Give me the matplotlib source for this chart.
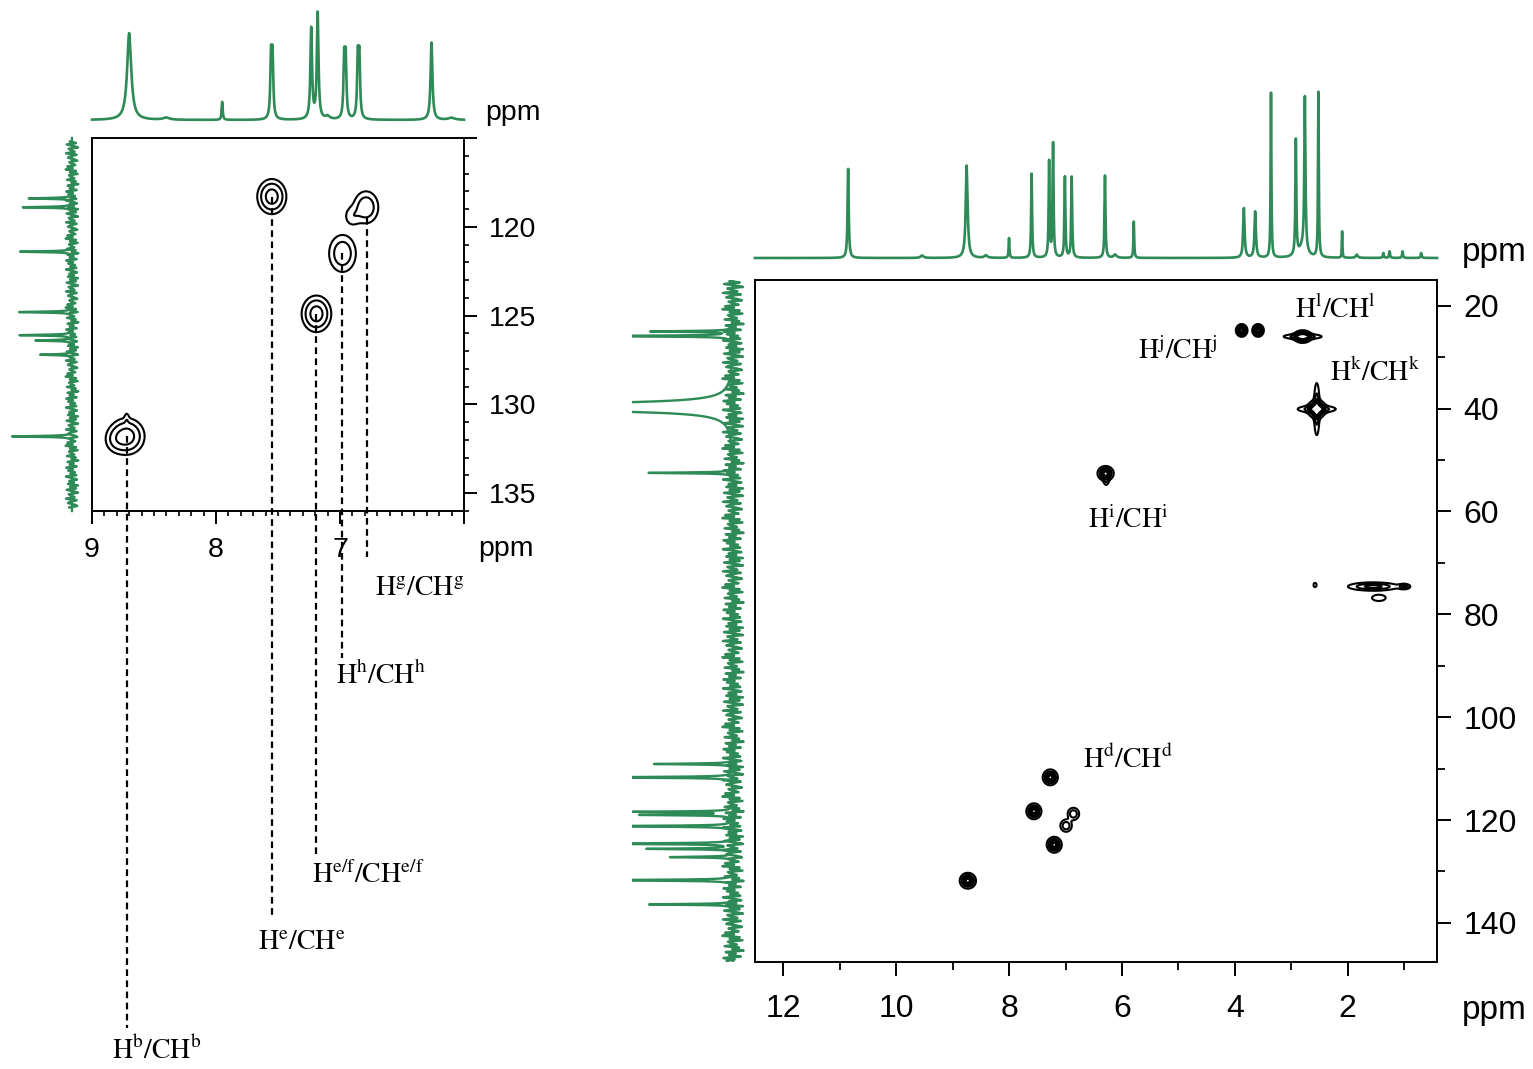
import numpy as np
import matplotlib
matplotlib.use('Agg')
import matplotlib.pyplot as plt
from matplotlib.ticker import FixedLocator, MultipleLocator

plt.rcParams['font.family'] = ['Liberation Sans', 'DejaVu Sans']
plt.rcParams['mathtext.fontset'] = 'stix'

green = '#2e8b57'

# ---------------- left panel (aromatic region) ----------------
# 1H projection: position (ppm), relative height, half width (ppm)
left_h_ppm = [8.70, 8.40, 7.95, 7.556, 7.544, 7.232, 7.18, 7.10, 6.966, 6.954, 6.856, 6.844, 6.262, 6.10]
left_h_height = [0.82, 0.02, 0.17, 0.56, 0.56, 0.855, 1.0, 0.03, 0.54, 0.54, 0.55, 0.55, 0.73, 0.02]
left_h_width = [0.02, 0.03, 0.005, 0.007, 0.007, 0.008, 0.008, 0.02, 0.007, 0.007, 0.007, 0.007, 0.009, 0.03]

# 13C projection
left_c_ppm = [118.4, 118.9, 121.4, 124.8, 126.1, 126.4, 127.2, 131.8]
left_c_height = [0.72, 0.82, 0.87, 0.88, 0.87, 0.60, 0.53, 1.0]

# HSQC cross peaks: 1H ppm, 13C ppm, spread 1H, spread 13C, intensity
left_pk_h = [8.72, 8.81, 8.72, 7.55, 7.19, 6.98, 6.79, 6.90]
left_pk_c = [131.8, 132.0, 130.8, 118.3, 124.9, 121.5, 118.9, 119.4]
left_pk_sh = [0.07, 0.05, 0.012, 0.057, 0.058, 0.06, 0.055, 0.04]
left_pk_sc = [0.5, 0.4, 0.25, 0.48, 0.5, 0.58, 0.5, 0.35]
left_pk_amp = [1.0, 0.25, 0.15, 1.0, 1.0, 0.6, 0.6, 0.25]

# assignments: dashed guide (1H ppm, from 13C, to 13C), label anchor
left_lab_text = [r'$\mathrm{H^{b}/CH^{b}}$', r'$\mathrm{H^{e}/CH^{e}}$',
                 r'$\mathrm{H^{e/f}/CH^{e/f}}$', r'$\mathrm{H^{h}/CH^{h}}$',
                 r'$\mathrm{H^{g}/CH^{g}}$']
left_guide_h = [8.72, 7.55, 7.19, 6.98, 6.78]
left_guide_top = [131.8, 118.3, 124.9, 121.5, 119.5]
left_guide_end = [165.1, 158.9, 155.3, 144.3, 138.6]
left_lab_h = [8.84, 7.66, 7.226, 7.032, 6.718]
left_lab_c = [166.4, 160.3, 156.5, 145.3, 140.4]

# ---------------- right panel (full spectrum) ----------------
right_h_ppm = [10.85, 9.54, 8.75, 8.41, 8.0, 7.60, 7.29, 7.22, 7.01, 6.89, 6.30, 6.12, 5.79,
               3.84, 3.64, 3.36, 2.92, 2.80, 2.76, 2.52, 2.10, 1.84, 1.37, 1.26, 1.03, 0.70]
right_h_height = [0.54, 0.015, 0.56, 0.015, 0.12, 0.51, 0.58, 0.69, 0.49, 0.49, 0.50, 0.02, 0.22,
                  0.30, 0.28, 1.0, 0.70, 0.06, 0.93, 1.0, 0.16, 0.02, 0.03, 0.04, 0.04, 0.03]
right_h_width = [0.012, 0.03, 0.02, 0.03, 0.008, 0.01, 0.01, 0.01, 0.01, 0.01, 0.01, 0.03, 0.008,
                 0.015, 0.015, 0.008, 0.01, 0.08, 0.012, 0.008, 0.006, 0.02, 0.01, 0.01, 0.01, 0.01]

right_c_ppm = [25.0, 25.9, 39.7, 52.5, 109.1, 111.7, 118.4, 119.0, 121.2, 124.6, 125.6, 127.2, 131.7, 136.4]
right_c_height = [0.80, 1.5, 20.0, 0.83, 0.78, 1.5, 0.97, 0.9, 1.5, 1.5, 0.84, 0.62, 1.5, 0.83]
right_c_width = [0.1, 0.1, 0.22, 0.1, 0.1, 0.1, 0.1, 0.1, 0.1, 0.1, 0.1, 0.1, 0.1, 0.1]

right_pk_h = [3.88, 3.59, 2.80, 2.80, 2.55, 2.55, 2.55, 6.29, 6.28, 2.58, 1.55, 1.0, 1.45,
              7.27, 7.56, 6.86, 6.99, 7.20, 8.73]
right_pk_c = [24.8, 24.8, 26.0, 26.0, 40.1, 40.1, 40.1, 52.6, 54.0, 74.3, 74.6, 74.6, 76.8,
              111.7, 118.3, 118.8, 121.1, 124.8, 131.8]
right_pk_sh = [0.05, 0.05, 0.08, 0.2, 0.08, 0.03, 0.2, 0.07, 0.03, 0.02, 0.25, 0.06, 0.1,
               0.065, 0.065, 0.06, 0.06, 0.065, 0.07]
right_pk_sc = [0.6, 0.6, 0.6, 0.3, 0.9, 3.0, 0.4, 0.7, 0.6, 0.3, 0.45, 0.3, 0.5,
               0.75, 0.75, 0.7, 0.7, 0.75, 0.75]
right_pk_amp = [1.0, 1.0, 1.0, 0.5, 1.0, 0.5, 0.5, 1.0, 0.3, 0.3, 0.6, 0.5, 0.25,
                1.0, 1.0, 0.5, 0.5, 1.0, 1.0]

right_lab_text = [r'$\mathrm{H^{l}/CH^{l}}$', r'$\mathrm{H^{j}/CH^{j}}$',
                  r'$\mathrm{H^{k}/CH^{k}}$', r'$\mathrm{H^{i}/CH^{i}}$',
                  r'$\mathrm{H^{d}/CH^{d}}$']
right_lab_h = [2.94, 5.72, 2.32, 6.60, 6.69]
right_lab_c = [20.8, 28.9, 33.0, 61.6, 108.3]

# baseline noise of the 13C projections (relative units)
noise_pattern = [0.3, -0.6, 0.8, -0.2, -0.9, 0.5, 0.1, -0.4, 0.9, -0.7, 0.2, 0.6, -0.3, -0.8,
                 0.4, 0.0, -0.5, 0.7, -0.1, 0.95, -0.6, 0.3, -0.85, 0.45, 0.15, -0.35, 0.75,
                 -0.55, 0.05, -0.95, 0.65, -0.25, 0.35, -0.7, 0.85, -0.15, 0.55, -0.45, 0.25,
                 -0.65, 0.9, -0.05, -0.75, 0.4, -0.3, 0.6, -0.9]


def lorentz(x, pos, height, width):
    y = np.zeros_like(x)
    for p, h, w in zip(pos, height, width):
        y += h / (1 + ((x - p) / w) ** 2)
    return y


def field(xx, yy, ph, pc, sh, sc, amp):
    z = np.zeros_like(xx)
    for a, b, s1, s2, m in zip(ph, pc, sh, sc, amp):
        z += m * np.exp(-0.5 * (((xx - a) / s1) ** 2 + ((yy - b) / s2) ** 2))
    return z


W, H = 1533, 1069


def rect(x0, y0, x1, y1):
    return [x0 / W, 1 - y1 / H, (x1 - x0) / W, (y1 - y0) / H]


def bare(ax):
    ax.set_xticks([])
    ax.set_yticks([])
    for s in ax.spines.values():
        s.set_visible(False)
    ax.patch.set_alpha(0)


fig = plt.figure(figsize=(15.33, 10.69), dpi=100)

# ---------- left 2D ----------
ax1 = fig.add_axes(rect(92, 138, 464, 511))
hx = np.linspace(6, 9, 600)
cy = np.linspace(115, 136, 600)
XX, YY = np.meshgrid(hx, cy)
Z = field(XX, YY, left_pk_h, left_pk_c, left_pk_sh, left_pk_sc, left_pk_amp)
ax1.contour(XX, YY, Z, levels=[0.12, 0.32, 0.7], colors='k', linewidths=1.5)
ax1.set_xlim(9, 6)
ax1.set_ylim(136, 115)
ax1.yaxis.tick_right()
ax1.xaxis.set_major_locator(FixedLocator([9, 8, 7, 6]))
ax1.set_xticklabels(['9', '8', '7', ''])
ax1.xaxis.set_minor_locator(MultipleLocator(0.1))
ax1.yaxis.set_major_locator(FixedLocator([115, 120, 125, 130, 135]))
ax1.set_yticklabels(['', '120', '125', '130', '135'])
ax1.yaxis.set_minor_locator(MultipleLocator(1))
ax1.tick_params(which='major', direction='out', length=9, width=1.4, labelsize=20.5, pad=9)
ax1.tick_params(axis='x', which='major', pad=10)
ax1.tick_params(which='minor', direction='out', length=3.5, width=1.2)
for s in ax1.spines.values():
    s.set_linewidth(1.4)
for gh, g0, g1 in zip(left_guide_h, left_guide_top, left_guide_end):
    ax1.plot([gh, gh], [g0, g1], color='k', lw=1.6, ls=(0, (3, 2)), clip_on=False)
for t, lh, lc in zip(left_lab_text, left_lab_h, left_lab_c):
    ax1.text(lh, lc, t, fontsize=20, ha='left', va='center', color='k')

# left top 1H projection
ax1t = fig.add_axes(rect(92, 14, 464, 120))
hgrid = np.linspace(6, 9, 6000)
ax1t.plot(hgrid, lorentz(hgrid, left_h_ppm, left_h_height, left_h_width),
          color=green, lw=1.9, clip_on=False)
ax1t.set_xlim(9, 6)
ax1t.set_ylim(0, 1)
bare(ax1t)

# left 13C projection
ax1l = fig.add_axes(rect(10, 138, 82, 511))
cgrid = np.linspace(115, 136, 5000)
ax1l.plot(lorentz(cgrid, left_c_ppm, left_c_height, [0.03] * len(left_c_ppm)), cgrid,
          color=green, lw=1.7, clip_on=False)
ncoarse = np.linspace(115.2, 135.8, 250)
ax1l.plot(np.resize(noise_pattern, ncoarse.size) * 0.11, ncoarse, color=green, lw=1.8)
ax1l.set_xlim(1.033, -0.167)
ax1l.set_ylim(136, 115)
bare(ax1l)

# ---------- right 2D ----------
ax2 = fig.add_axes(rect(755, 280, 1437, 962))
hx2 = np.linspace(0.42, 12.5, 1400)
cy2 = np.linspace(15, 147.6, 900)
XX2, YY2 = np.meshgrid(hx2, cy2)
Z2 = field(XX2, YY2, right_pk_h, right_pk_c, right_pk_sh, right_pk_sc, right_pk_amp)
ax2.contour(XX2, YY2, Z2, levels=[0.12, 0.3, 0.5, 0.7, 0.88], colors='k', linewidths=1.5)
ax2.set_xlim(12.5, 0.42)
ax2.set_ylim(147.6, 15)
ax2.yaxis.tick_right()
ax2.xaxis.set_major_locator(FixedLocator([12, 10, 8, 6, 4, 2]))
ax2.xaxis.set_minor_locator(FixedLocator([11, 9, 7, 5, 3, 1]))
ax2.yaxis.set_major_locator(FixedLocator([20, 40, 60, 80, 100, 120, 140]))
ax2.yaxis.set_minor_locator(FixedLocator([30, 50, 70, 90, 110, 130]))
ax2.tick_params(which='major', direction='out', length=10, width=1.4, labelsize=23, pad=9)
ax2.tick_params(axis='x', which='major', pad=13)
ax2.tick_params(which='minor', direction='out', length=6, width=1.3)
for s in ax2.spines.values():
    s.set_linewidth(1.4)
for t, lh, lc in zip(right_lab_text, right_lab_h, right_lab_c):
    ax2.text(lh, lc, t, fontsize=20, ha='left', va='center', color='k')

# right top 1H projection
ax2t = fig.add_axes(rect(755, 93, 1437, 258))
hgrid2 = np.linspace(0.42, 12.5, 12000)
ax2t.plot(hgrid2, lorentz(hgrid2, right_h_ppm, right_h_height, right_h_width),
          color=green, lw=1.9, clip_on=False)
ax2t.set_xlim(12.5, 0.42)
ax2t.set_ylim(0, 1)
bare(ax2t)

# right 13C projection
ax2l = fig.add_axes(rect(632, 280, 745, 962))
cgrid2 = np.linspace(15, 147.6, 9000)
ax2l.plot(lorentz(cgrid2, right_c_ppm, right_c_height, right_c_width), cgrid2,
          color=green, lw=1.7)
ncoarse2 = np.linspace(15.2, 147.4, 460)
ax2l.plot(np.resize(noise_pattern, ncoarse2.size) * 0.11, ncoarse2, color=green, lw=1.8)
ax2l.set_xlim(1.0, -0.119)
ax2l.set_ylim(147.6, 15)
bare(ax2l)

# ppm axis captions
fig.text(485 / W, 1 - 113 / H, 'ppm', fontsize=20.5, ha='left', va='center')
fig.text(478 / W, 1 - 549 / H, 'ppm', fontsize=20.5, ha='left', va='center')
fig.text(1462 / W, 1 - 252 / H, 'ppm', fontsize=24, ha='left', va='center')
fig.text(1462 / W, 1 - 1010 / H, 'ppm', fontsize=24, ha='left', va='center')

fig.savefig('out.png', dpi=100)
